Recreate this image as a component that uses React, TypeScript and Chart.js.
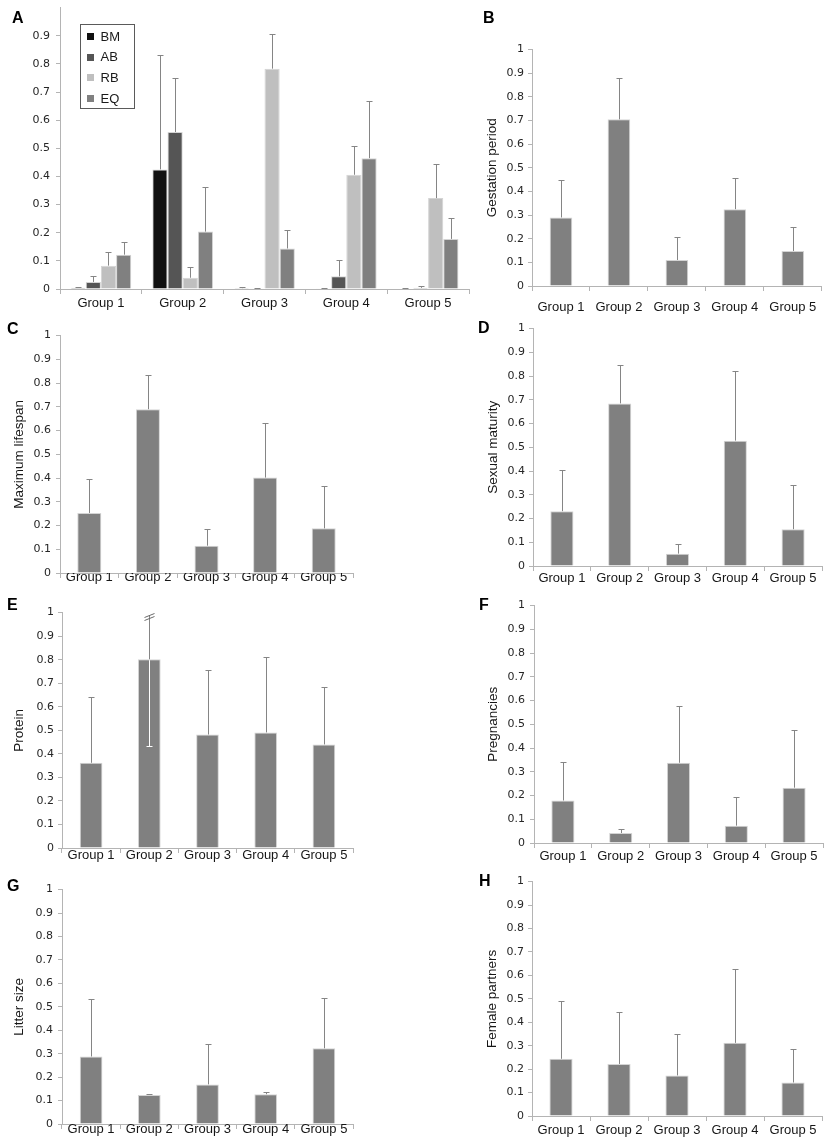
import React, { useEffect, useRef } from 'react';
import { Chart, registerables } from 'chart.js';

Chart.register(...registerables);

// ---------------- DATA ----------------
const categories = ['Group 1', 'Group 2', 'Group 3', 'Group 4', 'Group 5'];

// Panel A (four series)
const seriesNamesA = ['BM', 'AB', 'RB', 'EQ'];
const aBM = [0.004, 0.425, 0.003, 0.001, 0.002];
const aBMErr = [0.008, 0.83, 0.006, 0.002, 0.003];
const aAB = [0.025, 0.558, 0.001, 0.045, 0.004];
const aABErr = [0.045, 0.75, 0.002, 0.102, 0.012];
const aRB = [0.083, 0.04, 0.783, 0.406, 0.323];
const aRBErr = [0.133, 0.079, 0.906, 0.508, 0.443];
const aEQ = [0.122, 0.204, 0.144, 0.465, 0.178];
const aEQErr = [0.167, 0.363, 0.208, 0.668, 0.252];

// Panel B - Gestation period
const gestation = [0.29, 0.705, 0.11, 0.325, 0.148];
const gestationErr = [0.45, 0.88, 0.207, 0.455, 0.25];
// Panel C - Maximum lifespan
const lifespan = [0.253, 0.69, 0.115, 0.402, 0.188];
const lifespanErr = [0.397, 0.832, 0.186, 0.63, 0.367];
// Panel D - Sexual maturity
const maturity = [0.231, 0.685, 0.052, 0.528, 0.155];
const maturityErr = [0.406, 0.847, 0.094, 0.821, 0.342];
// Panel E - Protein
const protein = [0.362, 0.802, 0.482, 0.491, 0.44];
const proteinErr = [0.641, 1.0, 0.758, 0.81, 0.685];
const proteinErrLow = [null, 0.435, null, null, null];
const proteinErrBreak = [false, true, false, false, false];
// Panel F - Pregnancies
const pregnancies = [0.179, 0.042, 0.338, 0.073, 0.233];
const pregnanciesErr = [0.341, 0.061, 0.577, 0.193, 0.476];
// Panel G - Litter size
const litter = [0.288, 0.124, 0.169, 0.127, 0.323];
const litterErr = [0.535, 0.126, 0.343, 0.137, 0.538];
// Panel H - Female partners
const partners = [0.244, 0.222, 0.173, 0.312, 0.143];
const partnersErr = [0.49, 0.442, 0.35, 0.627, 0.286];

// ---------------- STYLE ----------------
const SERIES_COLORS = ['#111111', '#555555', '#bfbfbf', '#808080'];
const BAR_GREY = '#808080';
const BAR_BORDER = '#d4d4d4';
const AXIS = '#b4b4b4';
const ERR = '#858585';
const PAD_TOP = 10;
const PAD_R = 2;
const X_H = 34;

type Layout = {
  left: number; right: number; top: number; bottom: number;
  titleX: number | null; xPad: number; yPad: number;
  letterX: number; letterY: number;
};

type DS = {
  label: string; data: number[]; err: (number | null)[]; color: string;
  errLow?: (number | null)[]; errBreak?: boolean[];
};

type Spec = {
  letter: string; title: string | null; datasets: DS[]; layout: Layout;
  hideTop?: boolean; legend?: boolean; catPct: number; barPct: number;
};

const single = (label: string, data: number[], err: number[], extra: Partial<DS> = {}): DS[] => [
  { label, data, err, color: BAR_GREY, ...extra },
];

const panels: Spec[] = [
  {
    letter: 'A', title: null, hideTop: true, legend: true, catPct: 0.742, barPct: 1,
    datasets: [
      { label: seriesNamesA[0], data: aBM, err: aBMErr, color: SERIES_COLORS[0] },
      { label: seriesNamesA[1], data: aAB, err: aABErr, color: SERIES_COLORS[1] },
      { label: seriesNamesA[2], data: aRB, err: aRBErr, color: SERIES_COLORS[2] },
      { label: seriesNamesA[3], data: aEQ, err: aEQErr, color: SERIES_COLORS[3] },
    ],
    layout: { left: 60, right: 469, top: 5, bottom: 289, titleX: null, xPad: 1.5, yPad: 6, letterX: 12, letterY: 10 },
  },
  {
    letter: 'B', title: 'Gestation period', catPct: 1, barPct: 0.39,
    datasets: single('Gestation period', gestation, gestationErr),
    layout: { left: 532, right: 823, top: 49, bottom: 286, titleX: 492, xPad: 8.5, yPad: 4, letterX: 483, letterY: 10 },
  },
  {
    letter: 'C', title: 'Maximum lifespan', catPct: 1, barPct: 0.41,
    datasets: single('Maximum lifespan', lifespan, lifespanErr),
    layout: { left: 60, right: 353, top: 334, bottom: 573, titleX: 19, xPad: -8, yPad: 5, letterX: 7, letterY: 321 },
  },
  {
    letter: 'D', title: 'Sexual maturity', catPct: 1, barPct: 0.4,
    datasets: single('Sexual maturity', maturity, maturityErr),
    layout: { left: 533, right: 822, top: 328, bottom: 566, titleX: 493, xPad: -0.7, yPad: 4, letterX: 478, letterY: 320 },
  },
  {
    letter: 'E', title: 'Protein', catPct: 1, barPct: 0.39,
    datasets: single('Protein', protein, proteinErr, { errLow: proteinErrLow, errBreak: proteinErrBreak }),
    layout: { left: 62, right: 353, top: 612, bottom: 848, titleX: 19, xPad: -5.3, yPad: 4, letterX: 7, letterY: 597 },
  },
  {
    letter: 'F', title: 'Pregnancies', catPct: 1, barPct: 0.4,
    datasets: single('Pregnancies', pregnancies, pregnanciesErr),
    layout: { left: 534, right: 823, top: 604, bottom: 843, titleX: 493, xPad: 0.7, yPad: 5, letterX: 479, letterY: 597 },
  },
  {
    letter: 'G', title: 'Litter size', catPct: 1, barPct: 0.39,
    datasets: single('Litter size', litter, litterErr),
    layout: { left: 62, right: 353, top: 888, bottom: 1124, titleX: 19, xPad: -7, yPad: 5, letterX: 7, letterY: 878 },
  },
  {
    letter: 'H', title: 'Female partners', catPct: 1, barPct: 0.4,
    datasets: single('Female partners', partners, partnersErr),
    layout: { left: 532, right: 822, top: 881, bottom: 1116, titleX: 492, xPad: 1.7, yPad: 4, letterX: 479, letterY: 873 },
  },
];

// ---------------- PLUGINS ----------------
const errorBarPlugin = {
  id: 'errorBars',
  afterDatasetsDraw(chart: any) {
    const ctx = chart.ctx;
    const yScale = chart.scales.y;
    chart.data.datasets.forEach((ds: any, di: number) => {
      const meta = chart.getDatasetMeta(di);
      meta.data.forEach((bar: any, i: number) => {
        const x = Math.round(bar.x) + 0.5;
        const yb = bar.y;
        const top = ds.errTop ? ds.errTop[i] : null;
        ctx.save();
        ctx.lineWidth = 1;
        if (top != null) {
          const yt = Math.round(yScale.getPixelForValue(top)) + 0.5;
          ctx.strokeStyle = ERR;
          ctx.beginPath();
          ctx.moveTo(x, yb);
          const brk = ds.errBreak && ds.errBreak[i];
          ctx.lineTo(x, brk ? yt + 2 : yt);
          if (!brk) {
            ctx.moveTo(x - 3, yt);
            ctx.lineTo(x + 3, yt);
          }
          ctx.stroke();
          if (brk) {
            const c = yt + 3;
            ctx.strokeStyle = '#6a6a6a';
            ctx.beginPath();
            ctx.moveTo(x - 5, c + 1);
            ctx.lineTo(x + 5, c - 3);
            ctx.moveTo(x - 5, c + 4);
            ctx.lineTo(x + 5, c);
            ctx.stroke();
          }
        }
        const low = ds.errLow ? ds.errLow[i] : null;
        if (low != null) {
          const yl = Math.round(yScale.getPixelForValue(low)) + 0.5;
          ctx.strokeStyle = '#ffffff';
          ctx.beginPath();
          ctx.moveTo(x, yb + 1);
          ctx.lineTo(x, yl);
          ctx.moveTo(x - 3, yl);
          ctx.lineTo(x + 3, yl);
          ctx.stroke();
        }
        ctx.restore();
      });
    });
  },
};

const boxLegendPlugin = {
  id: 'boxLegend',
  afterDraw(chart: any, _args: any, opts: any) {
    if (!opts || !opts.show) return;
    const { ctx, chartArea } = chart;
    const x0 = Math.round(chartArea.left + opts.dx) + 0.5;
    const y0 = Math.round(chartArea.top + opts.dy) + 0.5;
    ctx.save();
    ctx.fillStyle = '#ffffff';
    ctx.fillRect(x0, y0, opts.w, opts.h);
    ctx.strokeStyle = '#5a5a5a';
    ctx.lineWidth = 1;
    ctx.strokeRect(x0, y0, opts.w, opts.h);
    ctx.font = '13px "Liberation Sans", Arial, sans-serif';
    ctx.textBaseline = 'middle';
    ctx.textAlign = 'left';
    chart.data.datasets.forEach((ds: any, i: number) => {
      const cy = y0 + opts.first + i * opts.step;
      ctx.fillStyle = ds.backgroundColor;
      ctx.fillRect(x0 + 6.5, Math.round(cy - 3.5), 7, 7);
      ctx.fillStyle = '#1a1a1a';
      ctx.fillText(ds.label, x0 + 20, cy + 0.5);
    });
    ctx.restore();
  },
};

// ---------------- COMPONENTS ----------------
function Panel({ spec }: { spec: Spec }) {
  const ref = useRef<HTMLCanvasElement | null>(null);
  const L = spec.layout;
  const canvasLeft = L.titleX != null ? Math.round(L.titleX - 7.8) : L.left - 50;
  const canvasTop = L.top - PAD_TOP;
  const w = L.right + PAD_R - canvasLeft;
  const h = L.bottom - L.top + PAD_TOP + X_H;
  const yW = L.left - canvasLeft;

  useEffect(() => {
    if (!ref.current) return;
    const chart = new Chart(ref.current, {
      type: 'bar',
      data: {
        labels: categories,
        datasets: spec.datasets.map((d) => ({
          label: d.label,
          data: d.data,
          backgroundColor: d.color,
          borderColor: BAR_BORDER,
          borderWidth: 1,
          barPercentage: spec.barPct,
          categoryPercentage: spec.catPct,
          errTop: d.err,
          errLow: d.errLow,
          errBreak: d.errBreak,
        })) as any,
      },
      options: {
        responsive: false,
        maintainAspectRatio: false,
        animation: false,
        events: [],
        layout: { padding: { top: PAD_TOP, right: PAD_R, left: 0, bottom: 0 } },
        plugins: {
          legend: { display: false },
          tooltip: { enabled: false },
          boxLegend: spec.legend
            ? { show: true, dx: 20, dy: 16, w: 54, h: 84, first: 12, step: 20.7 }
            : { show: false },
        } as any,
        scales: {
          x: {
            grid: { display: true, drawOnChartArea: false, drawTicks: true, tickLength: 5, color: AXIS, offset: true },
            border: { display: true, color: AXIS, width: 1 },
            ticks: {
              font: { family: '"Liberation Sans", Arial, sans-serif', size: 13 },
              color: '#161616',
              padding: L.xPad,
              autoSkip: false,
              maxRotation: 0,
              minRotation: 0,
            },
            afterFit: (s: any) => { s.height = X_H; },
          },
          y: {
            min: 0,
            max: 1,
            ticks: {
              stepSize: 0.1,
              font: { family: '"DejaVu Sans", Verdana, sans-serif', size: 11 },
              color: '#262626',
              padding: L.yPad,
              callback: (v: any) => {
                const r = Math.round(Number(v) * 10) / 10;
                if (spec.hideTop && r === 1) return null;
                return String(r);
              },
            },
            grid: { display: true, drawOnChartArea: false, drawTicks: true, tickLength: 4, color: AXIS },
            border: { display: true, color: AXIS, width: 1 },
            title: spec.title
              ? {
                  display: true,
                  text: spec.title,
                  font: { family: '"Liberation Sans", Arial, sans-serif', size: 13.5 },
                  color: '#161616',
                  padding: 0,
                }
              : { display: false },
            afterFit: (s: any) => { s.width = yW; },
          },
        },
      } as any,
      plugins: spec.legend ? [errorBarPlugin, boxLegendPlugin] : [errorBarPlugin],
    });
    return () => chart.destroy();
  }, []);

  return (
    <>
      <canvas
        ref={ref}
        width={w}
        height={h}
        style={{ position: 'absolute', left: canvasLeft, top: canvasTop, width: w, height: h }}
      />
      <div
        style={{
          position: 'absolute',
          left: L.letterX,
          top: L.letterY,
          font: 'bold 16px "Liberation Sans", Arial, sans-serif',
          lineHeight: '16px',
          color: '#000',
        }}
      >
        {spec.letter}
      </div>
    </>
  );
}

export default function App() {
  return (
    <div
      style={{
        position: 'absolute',
        left: 0,
        top: 0,
        width: 825,
        height: 1140,
        overflow: 'hidden',
        background: '#ffffff',
      }}
    >
      {panels.map((p) => (
        <Panel key={p.letter} spec={p} />
      ))}
    </div>
  );
}
